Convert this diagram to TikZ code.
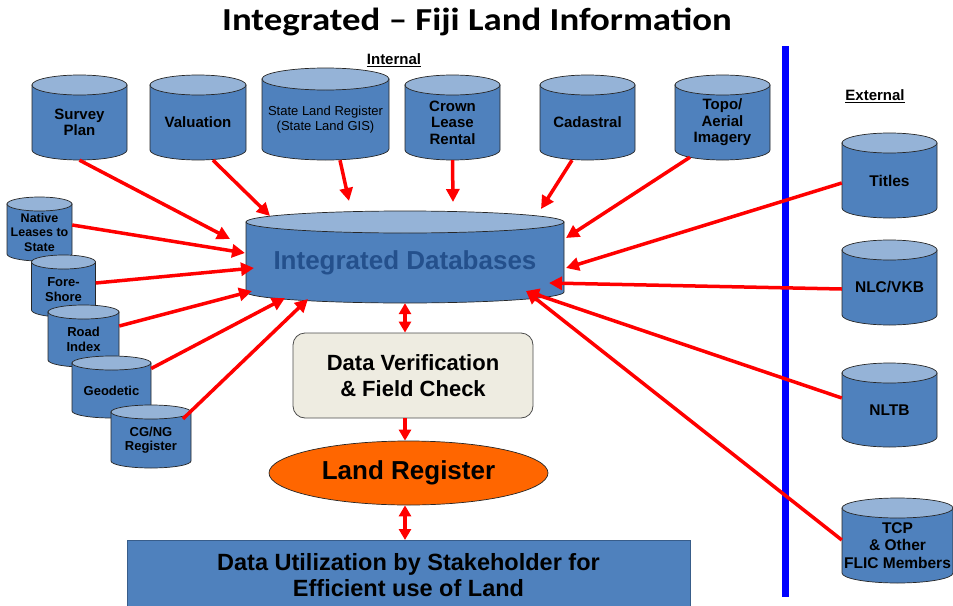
\documentclass[tikz,border=0pt]{standalone}
\usepackage{fontspec}
\setmainfont{Liberation Sans}
\newfontfamily\titlefont{Carlito}
\usetikzlibrary{arrows.meta,shapes.geometric,calc}
\definecolor{cylblue}{HTML}{4F81BD}
\definecolor{cyltopblue}{HTML}{95B3D7}
\definecolor{dbtext}{HTML}{24508C}
\definecolor{arrred}{HTML}{FF0000}
\definecolor{lineblue}{HTML}{0000FF}
\definecolor{lrorange}{HTML}{FF6600}
\definecolor{verfill}{HTML}{EEECE1}
\definecolor{botborder}{HTML}{385D8A}
\tikzset{
  cylbody/.style={fill=cylblue,draw=black!85,line width=0.7pt},
  cyltop/.style={fill=cyltopblue,draw=black!85,line width=0.7pt},
  cylnode/.style={draw=none,inner sep=0pt,align=center,text=black},
  arr/.style={draw=arrred,line width=3.5pt,-{Triangle[length=13pt,width=13pt]}},
  darr/.style={draw=arrred,line width=3.2pt,{Triangle[length=11pt,width=12pt]}-{Triangle[length=11pt,width=12pt]}},
  verbox/.style={draw=black!70,line width=0.8pt,fill=verfill,rounded corners=12pt,align=center,inner sep=0pt,
     font=\fontsize{22}{26}\selectfont\bfseries},
  lrell/.style={ellipse,draw=black!85,line width=0.7pt,fill=lrorange,inner sep=0pt,
     font=\fontsize{26}{28}\selectfont\bfseries},
  botbox/.style={draw=botborder,line width=0.8pt,fill=cylblue,align=center,inner sep=0pt,
     font=\fontsize{23.5}{26}\selectfont\bfseries},
  sidelabel/.style={font=\fontsize{15}{17}\selectfont\bfseries,inner sep=0pt},
}
% #1 name #2 cx #3 ytop #4 ybot #5 width #6 ry #7 font #8 text
\newcommand\dbcyl[8]{%
\pgfmathsetmacro\cylxl{#2-#5/2}%
\pgfmathsetmacro\cylxr{#2+#5/2}%
\pgfmathsetmacro\cylrx{#5/2}%
\pgfmathsetmacro\cylyt{-(#3)-(#6)}%
\pgfmathsetmacro\cylyb{-(#4)+(#6)}%
\pgfmathsetmacro\cylh{#4-#3-#6}%
\pgfmathsetmacro\cylyc{-(#3+#6+#4)/2}%
\filldraw[cylbody] (\cylxl,\cylyt) -- (\cylxl,\cylyb) arc[start angle=180,end angle=360,x radius=\cylrx,y radius=#6] -- (\cylxr,\cylyt) -- cycle;
\filldraw[cyltop] (#2,\cylyt) ellipse[x radius=\cylrx,y radius=#6];
\node[cylnode,minimum width=#5pt,minimum height=\cylh pt,font=#7] (#1) at (#2,\cylyc) {#8};
}
\begin{document}
\begin{tikzpicture}[x=1pt,y=1pt]
\useasboundingbox (0,0) rectangle (953,-605);
\clip (0,0) rectangle (953,-605);
% title
\node[font=\titlefont\fontsize{32}{34}\selectfont\bfseries] (title) at (477,-22) {\scalebox{1.15}[1]{Integrated – Fiji Land Information}};
\node[sidelabel] (internal) at (394,-60) {\underline{Internal}};
\node[sidelabel] (external) at (875,-96) {\underline{External}};
% separator
\draw[lineblue,line width=7pt] (785,-46) coordinate (sepTop) -- (785,-597) coordinate (sepBot);
% top internal cylinders
\dbcyl{sp}{79.5}{75}{160}{95}{10}{\fontsize{15}{16.5}\selectfont\bfseries}{Survey\\Plan}
\dbcyl{val}{198}{75}{160}{96}{10}{\fontsize{15}{16.5}\selectfont\bfseries}{Valuation}
\dbcyl{slr}{325.5}{68}{160}{127}{11}{\fontsize{13}{14.5}\selectfont}{State Land Register\\(State Land GIS)}
\dbcyl{clr}{452.5}{75}{160}{95}{10}{\fontsize{15}{16.5}\selectfont\bfseries}{Crown\\Lease\\Rental}
\dbcyl{cad}{587.5}{75}{160}{95}{10}{\fontsize{15}{16.5}\selectfont\bfseries}{Cadastral}
\dbcyl{topo}{722.5}{75}{160}{95}{10}{\fontsize{15}{16.5}\selectfont\bfseries}{Topo/\\Aerial\\Imagery}
% left cylinders
\dbcyl{nat}{39.5}{197}{261}{65}{7}{\fontsize{12.5}{14.5}\selectfont\bfseries}{Native\\Leases to\\State}
\dbcyl{fs}{63.5}{255}{317}{64}{7}{\fontsize{13}{14.5}\selectfont\bfseries}{Fore-\\Shore}
\dbcyl{ri}{83.5}{305}{367}{71}{7}{\fontsize{13}{14.5}\selectfont\bfseries}{Road\\Index}
\dbcyl{geo}{111.5}{356}{418}{79}{7}{\fontsize{13}{14.5}\selectfont\bfseries}{Geodetic}
\dbcyl{cg}{151}{405}{468}{80}{7}{\fontsize{13}{14.5}\selectfont\bfseries}{CG/NG\\Register}
% external cylinders
\dbcyl{tit}{889.5}{133}{218}{95}{10}{\fontsize{15.5}{17}\selectfont\bfseries}{Titles}
\dbcyl{nlc}{889.5}{240}{325}{95}{10}{\fontsize{15.5}{17}\selectfont\bfseries}{NLC/VKB}
\dbcyl{nltb}{889.5}{363}{447}{95}{10}{\fontsize{15.5}{17}\selectfont\bfseries}{NLTB}
\dbcyl{tcp}{897.5}{498}{583}{111}{10}{\fontsize{15.5}{17.5}\selectfont\bfseries}{TCP\\\& Other\\FLIC Members}
% central database
\dbcyl{db}{405}{211}{303}{318}{11}{\fontsize{26}{28}\selectfont\bfseries}{\color{dbtext}Integrated Databases}
% verification, land register, utilisation
\node[verbox,minimum width=240pt,minimum height=85pt] (ver) at (413,-375.5) {Data Verification\\\& Field Check};
\node[lrell,minimum width=279pt,minimum height=64pt] (lr) at (408.5,-473) {Land Register};
\node[botbox,minimum width=563pt,minimum height=70pt,anchor=north] (bot) at (408.5,-540) {Data Utilization by Stakeholder for\\Efficient use of Land};
% arrow tips on the database
\coordinate (eSp) at (230,-239);
\coordinate (eVal) at (270,-216);
\coordinate (eSlr) at (349,-201);
\coordinate (eClr) at (453,-202);
\coordinate (eCad) at (541,-209);
\coordinate (eTopo) at (566,-238);
\coordinate (eTit) at (566,-268);
\coordinate (eNlc) at (549,-283);
\coordinate (eNltb) at (526,-291);
\coordinate (eNat) at (245,-253);
\coordinate (eFs) at (254,-268);
\coordinate (eRi) at (252,-291);
\coordinate (eGeo) at (285,-298);
\coordinate (eCg) at (308,-299);
% arrows
\draw[arr] (sp.south) -- (eSp);
\draw[arr] ([xshift=15pt]val.south) -- (eVal);
\draw[arr] ([xshift=14.5pt]slr.south) -- (eSlr);
\draw[arr] (clr.south) -- (eClr);
\draw[arr] ([xshift=-15.5pt]cad.south) -- (eCad);
\draw[arr] ([xshift=-32.5pt,yshift=3pt]topo.south) -- (eTopo);
\draw[arr] ([yshift=-2.5pt]tit.west) -- (eTit);
\draw[arr] ([yshift=-1.5pt]nlc.west) -- (eNlc);
\draw[arr] ([yshift=12pt]nltb.west) -- (eNltb);
\draw[arr] ([yshift=5.5pt]tcp.west) -- (eNltb);
\draw[arr] ([yshift=7.5pt]nat.east) -- (eNat);
\draw[arr] ([yshift=6.5pt]fs.east) -- (eFs);
\draw[arr] ([yshift=13.5pt]ri.east) -- (eRi);
\draw[arr] ([yshift=22pt]geo.east) -- (eGeo);
\draw[arr] ([xshift=32pt,yshift=-7pt]cg.north) -- (eCg);
\draw[darr] (db.south) -- (db.south |- ver.north);
\draw[arr,line width=3.2pt,-{Triangle[length=11pt,width=12pt]}] (db.south |- ver.south) -- (db.south |- lr.north);
\draw[darr] (db.south |- lr.south) -- (db.south |- bot.north);
\end{tikzpicture}
\end{document}
